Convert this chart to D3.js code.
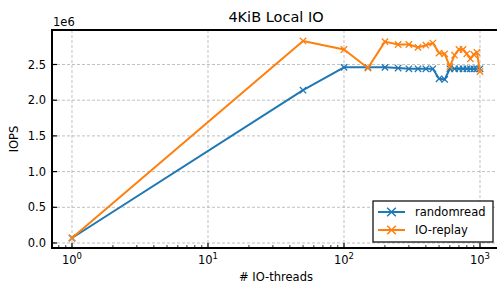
<!DOCTYPE html>
<html>
<head>
<meta charset="utf-8">
<script src="https://cdn.jsdelivr.net/npm/d3@7"></script>
<style>
  body { margin: 0; background: #fff; }
  svg { display: block; font-family: "DejaVu Sans", sans-serif; }
</style>
</head>
<body>
<svg width="497" height="289"></svg>
<script>
// data (IOPS in units of 1e6)
var threads = [1, 50, 100, 150, 200, 250, 300, 350, 400, 450, 500, 550, 600, 650, 700, 750, 800, 850, 900, 950, 1000];
var randomread = [0.07, 2.14, 2.46, 2.46, 2.46, 2.45, 2.44, 2.44, 2.44, 2.44, 2.30, 2.29, 2.44, 2.44, 2.44, 2.44, 2.44, 2.44, 2.44, 2.44, 2.44];
var ioreplay = [0.07, 2.83, 2.71, 2.45, 2.82, 2.78, 2.78, 2.74, 2.77, 2.80, 2.66, 2.65, 2.47, 2.63, 2.71, 2.71, 2.65, 2.58, 2.64, 2.67, 2.40];
var seriesNames = ["randomread", "IO-replay"];
var colors = ["#1f77b4", "#ff7f0e"];
var xTicks = [1, 10, 100, 1000];
var yTicks = [0, 0.5, 1.0, 1.5, 2.0, 2.5];

function chart() {
  var svg = d3.select("svg");
  var pl = 52, pr = 500, pt = 30, pb = 248;
  var fs = 11.5;

  var x = d3.scaleLog().domain([0.713, 1403]).range([pl, pr]);
  var y = d3.scaleLinear().domain([-0.07, 2.983]).range([pb, pt]);

  // grid
  var grid = svg.append("g").attr("stroke", "#b0b0b0").attr("stroke-width", 0.8).attr("stroke-dasharray", "3,2");
  xTicks.forEach(function(t) {
    grid.append("line").attr("x1", x(t)).attr("x2", x(t)).attr("y1", pt).attr("y2", pb);
  });
  yTicks.forEach(function(t) {
    grid.append("line").attr("x1", pl).attr("x2", pr).attr("y1", y(t)).attr("y2", y(t));
  });

  // lines
  var line = d3.line().x(function(d) { return x(d[0]); }).y(function(d) { return y(d[1]); });
  [randomread, ioreplay].forEach(function(vals, i) {
    var pts = threads.map(function(t, j) { return [t, vals[j]]; });
    svg.append("path").datum(pts).attr("d", line)
      .attr("fill", "none").attr("stroke", colors[i]).attr("stroke-width", 2).attr("stroke-linejoin", "round");
    svg.append("g").selectAll("path").data(pts).enter().append("path")
      .attr("d", d3.symbol(d3.symbolX, 28)())
      .attr("transform", function(d) { return "translate(" + x(d[0]) + "," + y(d[1]) + ")"; })
      .attr("stroke", colors[i]).attr("stroke-width", 1.3).attr("fill", "none");
  });

  // ticks (inward)
  var ax = svg.append("g").attr("stroke", "#000");
  var minor = [];
  for (var e = -1; e < 4; e++) {
    for (var m = 1; m < 10; m++) {
      var v = m * Math.pow(10, e);
      if (v >= 0.713 && v <= 1403) minor.push(v);
    }
  }
  minor.forEach(function(v) {
    var major = xTicks.indexOf(v) >= 0;
    ax.append("line").attr("x1", x(v)).attr("x2", x(v)).attr("y1", pb).attr("y2", pb - (major ? 5 : 3))
      .attr("stroke-width", major ? 1.2 : 0.8);
  });
  yTicks.forEach(function(t) {
    ax.append("line").attr("x1", pl).attr("x2", pl + 5).attr("y1", y(t)).attr("y2", y(t)).attr("stroke-width", 1.2);
  });

  // spines
  svg.append("line").attr("x1", pl).attr("x2", pl).attr("y1", pt).attr("y2", pb).attr("stroke", "#000").attr("stroke-width", 2);
  svg.append("line").attr("x1", pl - 1).attr("x2", pr).attr("y1", pb).attr("y2", pb).attr("stroke", "#000").attr("stroke-width", 2);
  svg.append("line").attr("x1", pl - 1).attr("x2", pr).attr("y1", pt).attr("y2", pt).attr("stroke", "#000").attr("stroke-width", 2);

  // tick labels
  yTicks.forEach(function(t) {
    svg.append("text").attr("x", pl - 6).attr("y", y(t)).attr("dy", "0.36em")
      .attr("text-anchor", "end").attr("font-size", fs).text(d3.format(".1f")(t));
  });
  xTicks.forEach(function(t) {
    var txt = svg.append("text").attr("x", x(t)).attr("y", 264).attr("text-anchor", "middle").attr("font-size", fs);
    txt.append("tspan").text("10");
    txt.append("tspan").attr("dy", -5).attr("font-size", 8.5).text(Math.round(Math.log10(t)));
  });
  svg.append("text").attr("x", pl + 1).attr("y", pt - 4).attr("font-size", fs).text("1e6");

  // labels
  svg.append("text").attr("x", (pl + pr) / 2).attr("y", 21.5).attr("text-anchor", "middle").attr("font-size", 14.5).text("4KiB Local IO");
  svg.append("text").attr("x", (pl + pr) / 2).attr("y", 281).attr("text-anchor", "middle").attr("font-size", fs).text("# IO-threads");
  svg.append("text").attr("transform", "translate(18," + (pt + pb) / 2 + ") rotate(-90)")
    .attr("text-anchor", "middle").attr("font-size", fs).text("IOPS");

  // legend
  var lg = svg.append("g").attr("transform", "translate(373,201)");
  lg.append("rect").attr("width", 120).attr("height", 41).attr("fill", "#fff").attr("stroke", "#000").attr("stroke-width", 1.2);
  seriesNames.forEach(function(n, i) {
    var yy = 11 + i * 18;
    lg.append("line").attr("x1", 5).attr("x2", 32).attr("y1", yy).attr("y2", yy).attr("stroke", colors[i]).attr("stroke-width", 2);
    lg.append("path").attr("d", d3.symbol(d3.symbolX, 50)()).attr("transform", "translate(18.5," + yy + ")")
      .attr("stroke", colors[i]).attr("stroke-width", 1.5).attr("fill", "none");
    lg.append("text").attr("x", 42).attr("y", yy).attr("dy", "0.36em").attr("font-size", fs).text(n);
  });
}
chart();
</script>
</body>
</html>
